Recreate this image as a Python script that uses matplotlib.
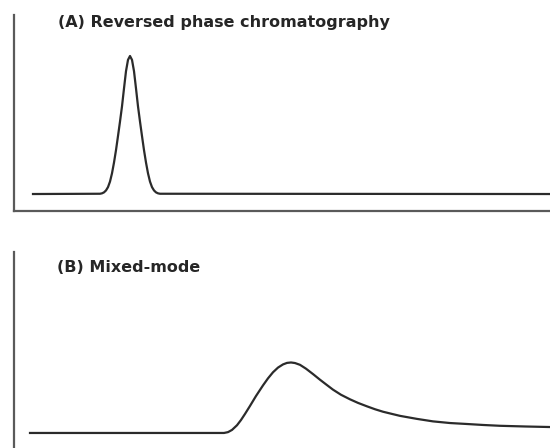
import matplotlib
matplotlib.use('Agg')
import matplotlib.pyplot as plt

# panel titles
title_a = '(A) Reversed phase chromatography'
title_b = '(B) Mixed-mode'

# (A) reversed phase: narrow, symmetric peak (time, relative signal)
time_a = [9.5, 43, 44, 45, 46, 47, 48, 49, 50, 51, 52, 53, 54, 55, 56, 57, 58,
          59, 60, 61, 62, 63, 64, 65, 66, 67, 68, 69, 70, 71, 72, 73, 268]
signal_a = [0, 0.002, 0.005, 0.012, 0.026, 0.050, 0.090, 0.150, 0.228, 0.318,
            0.420, 0.525, 0.635, 0.765, 0.890, 0.972, 1.000, 0.972, 0.890,
            0.765, 0.635, 0.525, 0.420, 0.318, 0.228, 0.150, 0.090, 0.050,
            0.026, 0.012, 0.005, 0.002, 0]

# (B) mixed-mode: later, broad, tailing peak
time_b = [8, 105, 107, 109, 111.5, 113.5, 115.5, 118, 121, 124.5, 127, 129.5,
          132, 134.5, 136.5, 138.5, 140.5, 143, 146, 149.5, 153, 156.5, 159.5,
          163.5, 168, 172, 176.5, 180.5, 184.5, 189, 193, 201.5, 209.5, 218,
          226.5, 234.5, 243, 255.5, 268]
signal_b = [0, 0, 0.006, 0.022, 0.056, 0.094, 0.138, 0.196, 0.268, 0.345, 0.396,
            0.440, 0.474, 0.497, 0.508, 0.511, 0.507, 0.494, 0.466, 0.427,
            0.386, 0.347, 0.314, 0.277, 0.244, 0.218, 0.193, 0.172, 0.154,
            0.138, 0.124, 0.102, 0.084, 0.072, 0.065, 0.058, 0.052, 0.047,
            0.043]

W, H = 550.0, 448.0
fig = plt.figure(figsize=(5.5, 4.48), dpi=100)

line_color = '#2b2b2b'
spine_color = '#5a5a5a'
text_color = '#262626'


def make_panel(rect, ylim):
    ax = fig.add_axes(rect)
    ax.set_xlim(0, 268)
    ax.set_ylim(*ylim)
    for side in ['top', 'right']:
        ax.spines[side].set_visible(False)
    for side in ['left', 'bottom']:
        ax.spines[side].set_color(spine_color)
        ax.spines[side].set_linewidth(1.6)
    ax.set_xticks([])
    ax.set_yticks([])
    ax.patch.set_alpha(0)
    return ax


# top panel: left spine x=14, from y=15 down to y=211
ax1 = make_panel([14 / W, 1 - 211 / H, 536 / W, 196 / H], (-0.123, 1.297))
ax1.plot(time_a, signal_a, color=line_color, lw=1.6, solid_joinstyle='round',
         clip_on=False)

# bottom panel: left spine from y=252 to below the image edge
ax2 = make_panel([14 / W, 1 - 452 / H, 536 / W, 200 / H], (-0.138, 1.312))
ax2.plot(time_b, signal_b, color=line_color, lw=1.6, solid_joinstyle='round',
         clip_on=False)

fig.text(58 / W, 1 - 23 / H, title_a, fontsize=11.5, fontweight='bold',
         color=text_color, va='center', ha='left')
fig.text(57 / W, 1 - 267 / H, title_b, fontsize=11.5, fontweight='bold',
         color=text_color, va='center', ha='left')

plt.savefig('out.png', dpi=100)
